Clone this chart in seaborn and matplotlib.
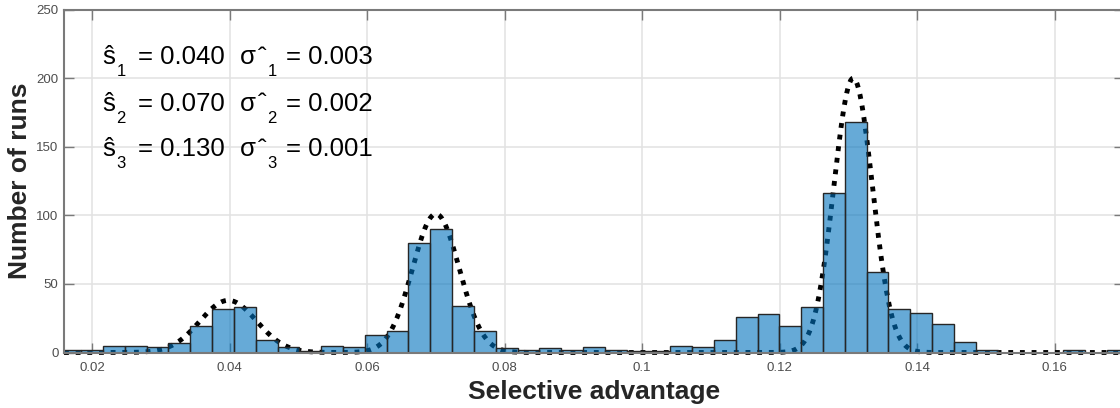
import numpy as np
import pandas as pd
import matplotlib
matplotlib.use("Agg")
import matplotlib.pyplot as plt
import seaborn as sns

sns.set_theme(style="whitegrid")
plt.rcParams['font.family'] = ['Liberation Sans', 'DejaVu Sans']

# histogram bins (left edge of first bin and bin width)
bin_start = 0.01522
bin_width = 0.003174
run_counts = [2, 2, 5, 5, 4, 7, 19, 32, 33, 9,
              4, 1, 5, 4, 13, 16, 80, 90, 34, 16,
              3, 2, 3, 2, 4, 2, 1, 1, 5, 4,
              9, 26, 28, 19, 33, 116, 168, 59, 32, 29,
              21, 8, 2, 0, 0, 0, 2, 0, 2]

# fitted mixture curve
fit_means = [0.0398, 0.0700, 0.1307]
fit_peaks = [38, 101, 200]
fit_widths = [0.0041, 0.0034, 0.0028]

# estimates shown in the annotation
est_s = ["0.040", "0.070", "0.130"]
est_sigma = ["0.003", "0.002", "0.001"]

x_ticks = [0.02, 0.04, 0.06, 0.08, 0.1, 0.12, 0.14, 0.16]
x_tick_labels = ["0.02", "0.04", "0.06", "0.08", "0.1", "0.12", "0.14", "0.16"]
y_ticks = [0, 50, 100, 150, 200, 250]

edges = bin_start + bin_width * np.arange(len(run_counts) + 1)
centers = (edges[:-1] + edges[1:]) / 2
hist_df = pd.DataFrame({"s": centers, "runs": run_counts})

x_fit = np.linspace(0.0159, 0.1701, 800)
y_fit = np.zeros_like(x_fit)
for m, p, w in zip(fit_means, fit_peaks, fit_widths):
    y_fit += p * np.exp(-(x_fit - m) ** 2 / (2 * w ** 2))
fit_df = pd.DataFrame({"s": x_fit, "runs": y_fit})

W, H = 1120, 408
fig = plt.figure(figsize=(W / 100, H / 100), dpi=100)
ax = fig.add_axes([64 / W, 55.5 / H, 1060 / W, 343 / H])

# dotted fit curve under the semi-transparent bars
sns.lineplot(data=fit_df, x="s", y="runs", ax=ax, color="black", lw=3.5)
fit_line = ax.lines[-1]
fit_line.set_linestyle((0, (1, 1.4)))
fit_line.set_zorder(1)
fit_line.set_clip_on(False)

sns.histplot(data=hist_df, x="s", weights="runs", bins=edges.tolist(), ax=ax)
for p in ax.patches:
    p.set_alpha(None)
    p.set_facecolor((0, 0.447, 0.741, 0.6))
    p.set_edgecolor("#262626")
    p.set_linewidth(1)
    p.set_zorder(2)

ax.set_xlim(0.0159, 0.1701)
ax.set_ylim(0, 250)
ax.set_xticks(x_ticks)
ax.set_xticklabels(x_tick_labels)
ax.set_yticks(y_ticks)
ax.set_axisbelow(True)
ax.grid(True, color="#e2e2e2", lw=1.1)

for sp in ax.spines.values():
    sp.set_visible(True)
    sp.set_color("#7a7a7a")
    sp.set_linewidth(1.5)

ax.tick_params(direction="in", length=7.5, width=1, colors="#7a7a7a",
               labelcolor="#4d4d4d", labelsize=9.5, top=True, right=True,
               bottom=True, left=True)
ax.tick_params(axis="x", pad=6.5)
ax.tick_params(axis="y", pad=4)

ax.set_xlabel("Selective advantage", fontsize=19, fontweight="bold",
              color="#262626", labelpad=5)
ax.set_ylabel("Number of runs", fontsize=19, fontweight="bold",
              color="#262626", labelpad=3)


def put(x, y, s, size):
    fig.text(x / W, 1 - y / H, s, fontsize=size, color="black",
             va="baseline", ha="left")


# annotation lines, laid out like the original (subscripts dropped low)
baselines = [64.5, 111, 156.5]
for i in range(3):
    y = baselines[i]
    k = str(i + 1)
    put(102, y, "ŝ", 18.5)
    put(116.5, y + 11.7, k, 12)
    put(137.5, y, "= " + est_s[i], 18.5)
    put(240, y, "σ", 18.5)
    put(258.5, y, "ˆ", 18.5)
    put(267.5, y + 11.7, k, 12)
    put(286, y, "= " + est_sigma[i], 18.5)

fig.savefig("out.png", dpi=100, facecolor="white")
